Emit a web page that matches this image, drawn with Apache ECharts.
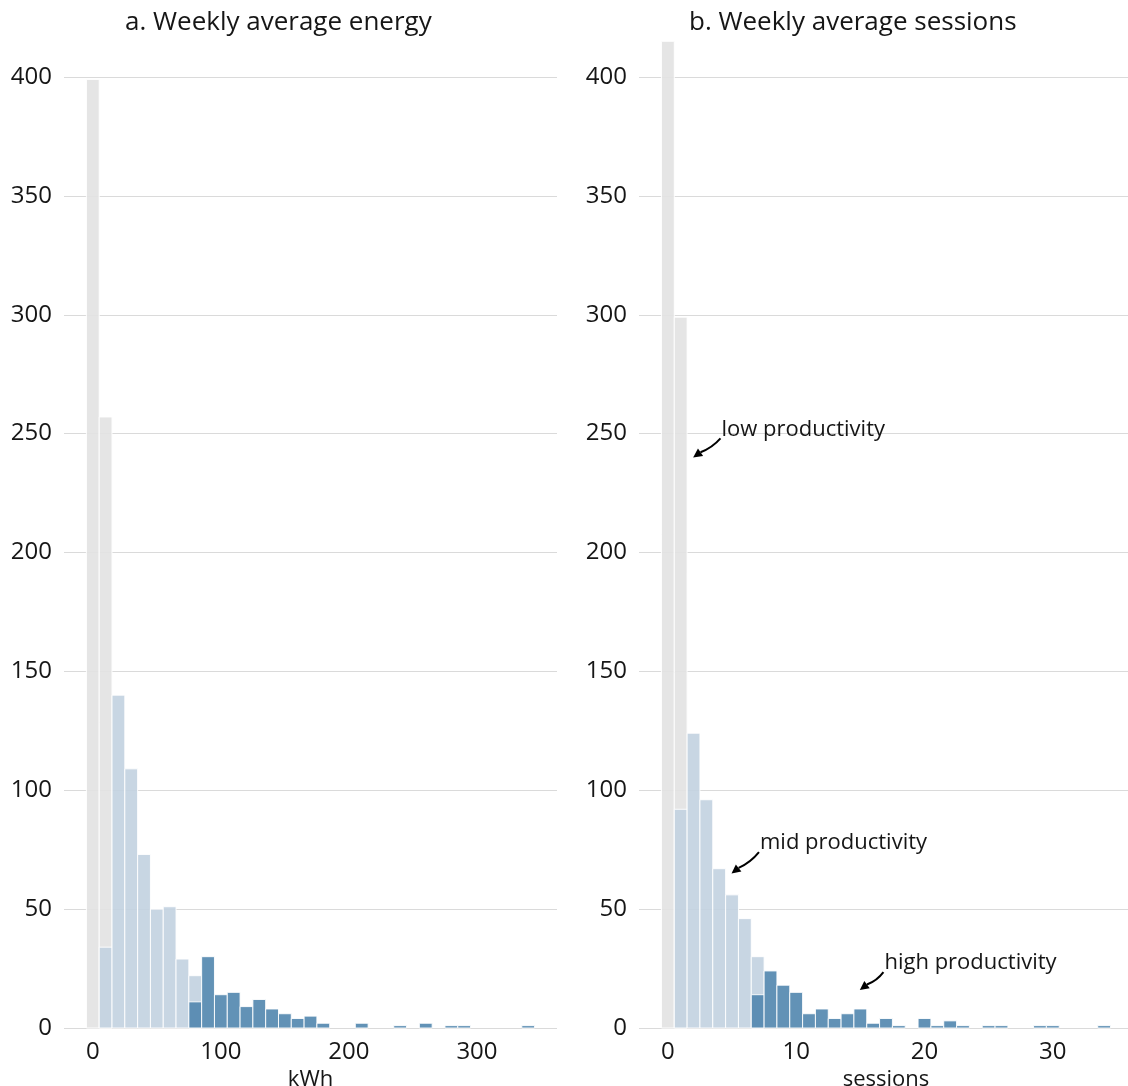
<!DOCTYPE html>
<html>
<head>
<meta charset="utf-8">
<script src="https://cdn.jsdelivr.net/npm/echarts@6/dist/echarts.min.js"></script>
<style>
  html, body { margin: 0; padding: 0; background: #ffffff; }
  #chart { width: 1128px; height: 1086px; }
</style>
</head>
<body>
<div id="chart"></div>
<script>
// Histogram counts per bin: [bin centre, count]
// a. Weekly average energy (10 kWh bins)
const energyLow  = [[0, 399], [10, 257]];
const energyMid  = [[10, 34], [20, 140], [30, 109], [40, 73], [50, 50], [60, 51], [70, 29], [80, 22]];
const energyHigh = [[80, 11], [90, 30], [100, 14], [110, 15], [120, 9], [130, 12], [140, 8], [150, 6],
                    [160, 4], [170, 5], [180, 2], [210, 2], [240, 1], [260, 2], [280, 1], [290, 1], [340, 1]];

// b. Weekly average sessions (1 session bins)
const sessionLow  = [[0, 415], [1, 299]];
const sessionMid  = [[1, 92], [2, 124], [3, 96], [4, 67], [5, 56], [6, 46], [7, 30]];
const sessionHigh = [[7, 14], [8, 24], [9, 18], [10, 15], [11, 6], [12, 8], [13, 4], [14, 6], [15, 8],
                     [16, 2], [17, 4], [18, 1], [20, 4], [21, 1], [22, 3], [23, 1], [25, 1], [26, 1],
                     [29, 1], [30, 1], [34, 1]];

const energyTicks  = [0, 100, 200, 300];
const sessionTicks = [0, 10, 20, 30];
const countMax = 400;
const countStep = 50;

// Annotation labels on the sessions panel: text, arrow tip [x, y], arrow tail [x, y]
const annotationText = ['low productivity', 'mid productivity', 'high productivity'];
const annotationTip  = [[1.97, 240], [4.96, 65], [14.96, 16]];
const annotationTail = [[4.1, 248], [7.1, 74], [16.8, 23.5]];

const FONT = 'Open Sans';
const INK = '#161616';
const COLORS = { low: '#e2e2e2', mid: '#c2d2e0', high: '#5186ae' };

const chart = echarts.init(document.getElementById('chart'), null, { renderer: 'canvas' });

function histSeries(data, binWidth, color, idx, name) {
  return {
    type: 'custom',
    name: name,
    xAxisIndex: idx,
    yAxisIndex: idx,
    clip: false,
    data: data,
    renderItem: function (params, api) {
      const c = api.value(0), v = api.value(1);
      const topLeft = api.coord([c - binWidth / 2, v]);
      const botRight = api.coord([c + binWidth / 2, 0]);
      return {
        type: 'rect',
        shape: { x: topLeft[0], y: topLeft[1], width: botRight[0] - topLeft[0], height: botRight[1] - topLeft[1] },
        style: { fill: color, stroke: '#ffffff', lineWidth: 1, opacity: 0.9 }
      };
    }
  };
}

function xAxisFor(idx, min, max, ticks, name) {
  return {
    type: 'value', gridIndex: idx, min: min, max: max,
    name: name, nameLocation: 'middle', nameGap: 35,
    nameTextStyle: { fontFamily: FONT, fontSize: 22, color: INK },
    axisLine: { show: false }, axisTick: { show: false }, splitLine: { show: false },
    axisLabel: { customValues: ticks, fontFamily: FONT, fontSize: 24, color: INK, margin: 12 }
  };
}

function yAxisFor(idx) {
  return {
    type: 'value', gridIndex: idx, min: 0, max: countMax, interval: countStep,
    axisLine: { show: false }, axisTick: { show: false },
    splitLine: { show: true, lineStyle: { color: '#dadada', width: 1 } },
    axisLabel: { fontFamily: FONT, fontSize: 24, color: INK, margin: 12 }
  };
}

const option = {
  backgroundColor: '#ffffff',
  animation: false,
  title: [
    { text: 'a. Weekly average energy', left: 120, top: 5,
      textStyle: { fontFamily: FONT, fontSize: 26, fontWeight: 'normal', color: INK } },
    { text: 'b. Weekly average sessions', left: 684, top: 5,
      textStyle: { fontFamily: FONT, fontSize: 26, fontWeight: 'normal', color: INK } }
  ],
  grid: [
    { left: 64, top: 77, width: 493, height: 951, outerBoundsMode: 'none', containLabel: false },
    { left: 639, top: 77, width: 494, height: 951, outerBoundsMode: 'none', containLabel: false }
  ],
  xAxis: [
    xAxisFor(0, -22.5, 362.5, energyTicks, 'kWh'),
    xAxisFor(1, -2.25, 36.25, sessionTicks, 'sessions')
  ],
  yAxis: [yAxisFor(0), yAxisFor(1)],
  series: [
    histSeries(energyLow, 10, COLORS.low, 0, 'low'),
    histSeries(energyMid, 10, COLORS.mid, 0, 'mid'),
    histSeries(energyHigh, 10, COLORS.high, 0, 'high'),
    histSeries(sessionLow, 1, COLORS.low, 1, 'low'),
    histSeries(sessionMid, 1, COLORS.mid, 1, 'mid'),
    histSeries(sessionHigh, 1, COLORS.high, 1, 'high')
  ]
};

chart.setOption(option);

// Curved arrows with labels, positioned through the sessions panel's scales
function arrowGraphics() {
  const out = [];
  annotationText.forEach(function (label, i) {
    const tip = chart.convertToPixel({ gridIndex: 1 }, annotationTip[i]);
    const tail = chart.convertToPixel({ gridIndex: 1 }, annotationTail[i]);
    const dx = tip[0] - tail[0], dy = tip[1] - tail[1];
    const len = Math.sqrt(dx * dx + dy * dy);
    const ux = dx / len, uy = dy / len;
    // perpendicular for a gentle bend
    const px = -uy, py = ux;
    const head = 9, halfW = 4.5;
    const base = [tip[0] - ux * head, tip[1] - uy * head];
    const mid = [(tail[0] + base[0]) / 2 - px * 3, (tail[1] + base[1]) / 2 - py * 3];
    out.push({
      type: 'bezierCurve', silent: true,
      shape: { x1: tail[0], y1: tail[1], x2: base[0], y2: base[1], cpx1: mid[0], cpy1: mid[1] },
      style: { stroke: '#000000', lineWidth: 2, fill: null }
    });
    out.push({
      type: 'polygon', silent: true,
      shape: { points: [tip, [base[0] + px * halfW, base[1] + py * halfW], [base[0] - px * halfW, base[1] - py * halfW]] },
      style: { fill: '#000000' }
    });
    out.push({
      type: 'text', silent: true,
      x: tail[0] + 1, y: tail[1] - 9,
      style: { text: label, fontFamily: FONT, fontSize: 22, fill: INK, textAlign: 'left', textVerticalAlign: 'middle' }
    });
  });
  return out;
}

chart.setOption({ graphic: arrowGraphics() });
</script>
</body>
</html>
